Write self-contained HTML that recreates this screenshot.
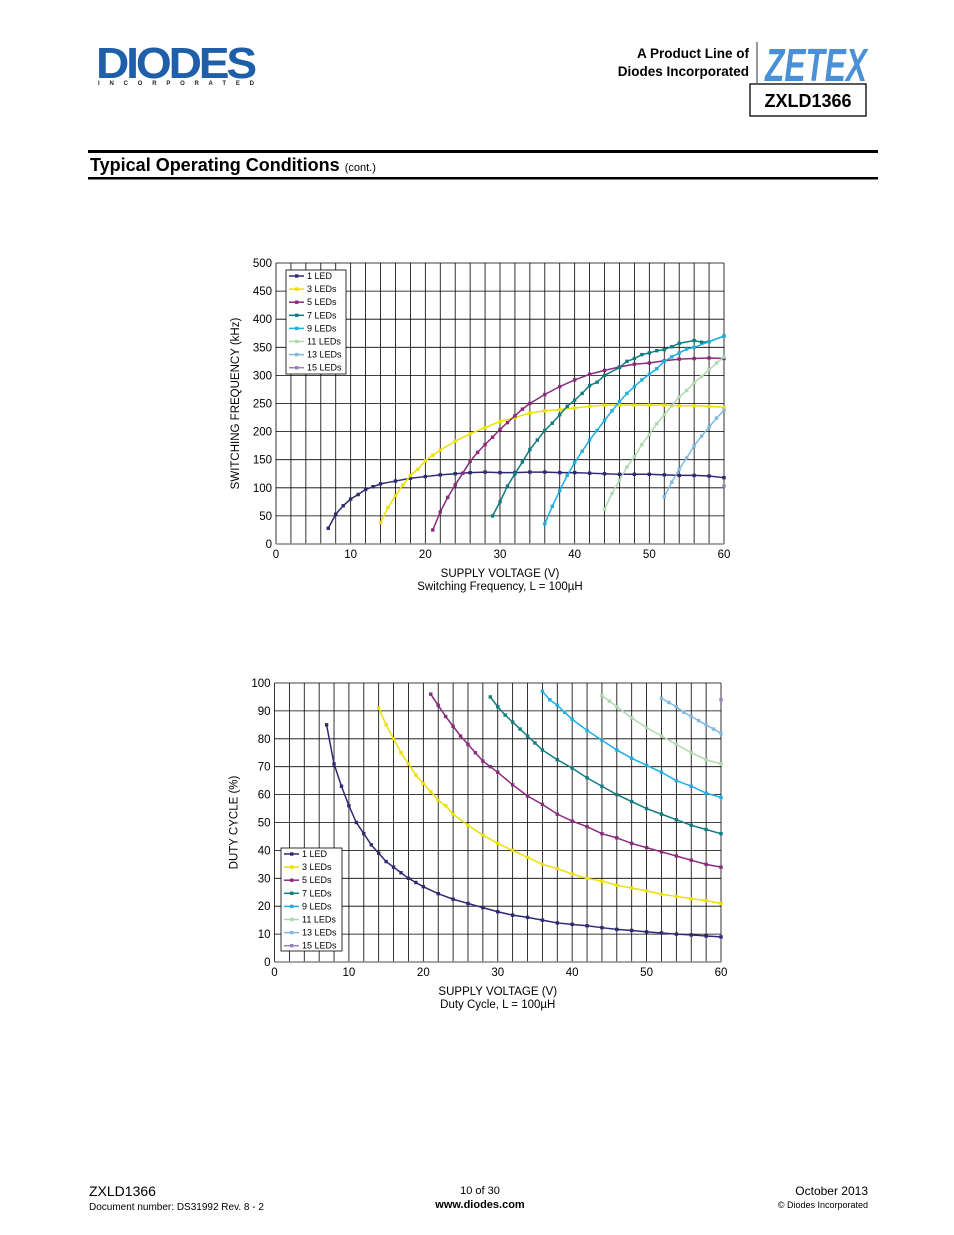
<!DOCTYPE html>
<html><head><meta charset="utf-8"><style>
body{margin:0;background:#fff}
svg{display:block;font-family:"Liberation Sans",Arial,sans-serif}
</style></head><body>
<svg id="pg" width="954" height="1235" viewBox="0 0 954 1235" xmlns="http://www.w3.org/2000/svg">
<g>
<text x="96" y="78" font-size="44" font-weight="bold" fill="#1f5ea8" letter-spacing="-3" textLength="158" lengthAdjust="spacingAndGlyphs">DIODES</text>
<text x="98" y="85" font-size="6" font-weight="bold" fill="#222" textLength="156" lengthAdjust="spacing">I N C O R P O R A T E D</text>
</g>
<text x="749" y="58" font-size="13.5" font-weight="bold" text-anchor="end">A Product Line of</text>
<text x="749" y="76" font-size="13.5" font-weight="bold" text-anchor="end">Diodes Incorporated</text>
<line x1="757" y1="42" x2="757" y2="83" stroke="#333" stroke-width="1"/>
<text x="765" y="81" font-size="46" font-weight="bold" font-style="italic" fill="#4a90d6" textLength="102" lengthAdjust="spacingAndGlyphs">ZETEX</text>
<rect x="750" y="84" width="116" height="32" fill="none" stroke="#000" stroke-width="1.3"/>
<text x="808" y="107" font-size="18" font-weight="bold" text-anchor="middle">ZXLD1366</text>
<rect x="88" y="150" width="790" height="3" fill="#000"/>
<text x="90" y="171" font-size="18" font-weight="bold">Typical Operating Conditions <tspan font-size="11" font-weight="normal">(cont.)</tspan></text>
<rect x="88" y="177" width="790" height="2.5" fill="#000"/>
<g id="c1"></g>
<g id="c2"></g>
<text x="89" y="1196" font-size="14">ZXLD1366</text>
<text x="89" y="1210" font-size="10">Document number: DS31992 Rev. 8 - 2</text>
<text x="480" y="1194" font-size="11" text-anchor="middle">10 of 30</text>
<text x="480" y="1208" font-size="11" font-weight="bold" text-anchor="middle">www.diodes.com</text>
<text x="868" y="1195" font-size="12" text-anchor="end">October 2013</text>
<text x="868" y="1208" font-size="9" text-anchor="end">© Diodes Incorporated</text>
</svg>
<script>
const names=["1 LED","3 LEDs","5 LEDs","7 LEDs","9 LEDs","11 LEDs","13 LEDs","15 LEDs"];
const colors=["#2e2a72","#ece000","#8a2a7e","#0f7c80","#1ab0e0","#b0d8b0","#80b8e0","#9a80c0"];
const xTicks=[0,10,20,30,40,50,60];
const fTicks=[0,50,100,150,200,250,300,350,400,450,500];
const dTicks=[0,10,20,30,40,50,60,70,80,90,100];
const f1V=[7,8,9,10,11,12,13,14,16,18,20,22,24,26,28,30,32,34,36,38,40,42,44,46,48,50,52,54,56,58,60];
const f1=[28,53,68,80,88,97,102,107,112,117,120,123,125,127,128,127,127,128,128,127,127,126,125,124,124,124,123,122,122,121,118];
const f3V=[14,15,16,17,18,19,20,21,22,24,26,28,30,32,34,36,38,40,42,44,46,48,50,52,54,56,58,60];
const f3=[38,65,86,105,122,133,148,158,167,183,196,207,218,225,233,237,239,242,245,247,247,247,247,247,246,246,245,243];
const f5V=[21,22,23,24,25,26,27,28,29,30,31,32,33,34,36,38,40,42,44,46,48,50,52,54,56,58,60];
const f5=[25,57,83,105,126,147,163,177,190,204,216,228,240,250,266,280,292,302,309,315,320,322,326,329,330,331,330];
const f7V=[29,30,31,32,33,34,35,36,37,38,39,40,41,42,43,44,46,47,48,49,50,51,52,53,54,56,57,58,60];
const f7=[50,75,103,125,146,168,185,202,215,230,245,256,268,282,288,300,314,325,330,337,340,344,346,351,357,362,359,360,370];
const f9V=[36,37,38,39,40,41,42,43,44,45,46,47,48,49,50,51,52,53,54,55,56,58,60];
const f9=[36,67,95,122,145,165,185,202,220,237,253,268,280,292,302,312,325,333,340,347,350,360,370];
const f11V=[44,45,46,47,48,49,50,51,52,53,54,55,56,57,58,59,60];
const f11=[62,90,113,137,155,177,195,214,230,246,262,273,287,298,310,322,333];
const f13V=[52,53,54,55,56,57,58,59,60];
const f13=[84,110,133,153,175,192,208,224,238];
const f15V=[60];
const f15=[103];
const d1V=[7,8,9,10,11,12,13,14,15,16,17,18,19,20,22,24,26,28,30,32,34,36,38,40,42,44,46,48,50,52,54,56,58,60];
const d1=[85,71,63,56,50,46,42,39,36,34,32,30,28.5,27,24.5,22.5,21,19.5,18,16.8,16,15,14,13.5,13,12.3,11.7,11.3,10.8,10.4,10,9.7,9.3,9];
const d3V=[14,15,16,17,18,19,20,21,22,23,24,26,28,30,32,34,36,38,40,42,44,46,48,50,52,54,56,58,60];
const d3=[91,85,80,75,71,67,64,61,58,56,53,49,45.5,42.5,40,37.5,35,33.5,31.5,30,29,27.5,26.5,25.5,24.3,23.5,22.7,22,21];
const d5V=[21,22,23,24,25,26,27,28,29,30,32,34,36,38,40,42,44,46,48,50,52,54,56,58,60];
const d5=[96,92,88,84.5,81,78,75,72,70,68,63.5,59.5,56.5,53,50.5,48.5,46,44.5,42.5,41,39.5,38,36.5,35,34];
const d7V=[29,30,31,32,33,34,35,36,38,40,42,44,46,48,50,52,54,56,58,60];
const d7=[95,91.5,88.5,86,83.5,81,78.5,76,72.5,69.5,66,63,60,57.5,55,53,51,49,47.5,46];
const d9V=[36,37,38,39,40,42,44,46,48,50,52,54,56,58,60];
const d9=[97,94,92,89.5,87,83,79.5,76,73,70.5,68,65,63,60.5,59];
const d11V=[44,45,46,48,50,52,54,56,58,60];
const d11=[95.5,93.5,91.5,87.5,84,81,78,75,72.5,71];
const d13V=[52,53,54,55,56,57,58,59,60];
const d13=[94.5,93,91.5,89.5,88,86.5,85,83.5,82];
const d15V=[60];
const d15=[94];
const NS="http://www.w3.org/2000/svg";
function mk(p,t,a){const e=document.createElementNS(NS,t);for(const k in a)e.setAttribute(k,a[k]);p.appendChild(e);return e;}
function chart(g,cfg){
  const X=v=>cfg.x0+(cfg.x1-cfg.x0)*v/60, Y=v=>cfg.y0-(cfg.y0-cfg.y1)*v/cfg.ymax;
  for(let v=0;v<=60;v+=2){const l=mk(g,"line",{x1:X(v),x2:X(v),y1:cfg.y1,y2:cfg.y0,stroke:"#000","stroke-width":0.8});
    
    }
  cfg.yt.forEach(v=>{const l=mk(g,"line",{x1:cfg.x0,x2:cfg.x1,y1:Y(v),y2:Y(v),stroke:"#000","stroke-width":0.8});
    
    
    const t=mk(g,"text",{x:cfg.x0-4,y:Y(v)+4,"font-size":11.5,"text-anchor":"end"});t.textContent=v;
    
    });
  mk(g,"line",{x1:cfg.x0,x2:cfg.x1,y1:cfg.y0,y2:cfg.y0,stroke:"#888","stroke-width":1.5});
  xTicks.forEach(v=>{const t=mk(g,"text",{x:X(v),y:cfg.y0+14,"font-size":11.5,"text-anchor":"middle"});t.textContent=v;
    
    });
  const yt=mk(g,"text",{x:0,y:0,"font-size":11.5,"text-anchor":"middle",transform:`translate(${cfg.x0-37},${(cfg.y0+cfg.y1)/2}) rotate(-90)`});yt.textContent=cfg.ytitle;
  
  
  const xt=mk(g,"text",{x:(cfg.x0+cfg.x1)/2,y:cfg.y0+33,"font-size":11.5,"text-anchor":"middle"});xt.textContent="SUPPLY VOLTAGE (V)";
  
  
  const ct=mk(g,"text",{x:(cfg.x0+cfg.x1)/2,y:cfg.y0+46,"font-size":11.5,"text-anchor":"middle"});ct.textContent=cfg.cap;
  
  
  cfg.series.forEach((s,i)=>{
    const [vs,ys]=s;
    const pl=mk(g,"polyline",{points:vs.map((v,j)=>X(v)+","+Y(ys[j])).join(" "),fill:"none",stroke:colors[i],"stroke-width":1.5});
    
    
    vs.forEach((v,j)=>{const m=mk(g,"rect",{x:X(v)-1.7,y:Y(ys[j])-1.7,width:3.4,height:3.4,fill:colors[i]});
      
      });
  });
  const L=cfg.leg;
  const box=mk(g,"rect",{x:L.x,y:L.y,width:L.w,height:L.h,fill:"#fff",stroke:"#000","stroke-width":0.8});
  
  
  names.forEach((n,i)=>{const yy=L.y+6+i*13.1;
    const ln=mk(g,"line",{x1:L.x+3,x2:L.x+18,y1:yy,y2:yy,stroke:colors[i],"stroke-width":1.5});
    
    
    mk(g,"rect",{x:L.x+9,y:yy-1.7,width:3.4,height:3.4,fill:colors[i]});
    const t=mk(g,"text",{x:L.x+21,y:yy+3,"font-size":9});t.textContent=n;
    
    });
}
chart(document.getElementById("c1"),{x0:276,x1:724,y0:544,y1:263,ymax:500,yt:fTicks,ytitle:"SWITCHING FREQUENCY (kHz)",cap:"Switching Frequency, L = 100µH",
  series:[[f1V,f1],[f3V,f3],[f5V,f5],[f7V,f7],[f9V,f9],[f11V,f11],[f13V,f13],[f15V,f15]],leg:{x:286,y:270,w:60,h:104}});
chart(document.getElementById("c2"),{x0:274.5,x1:721,y0:962,y1:683,ymax:100,yt:dTicks,ytitle:"DUTY CYCLE (%)",cap:"Duty Cycle, L = 100µH",
  series:[[d1V,d1],[d3V,d3],[d5V,d5],[d7V,d7],[d9V,d9],[d11V,d11],[d13V,d13],[d15V,d15]],leg:{x:281,y:848,w:61,h:103}});
</script>
</body></html>
